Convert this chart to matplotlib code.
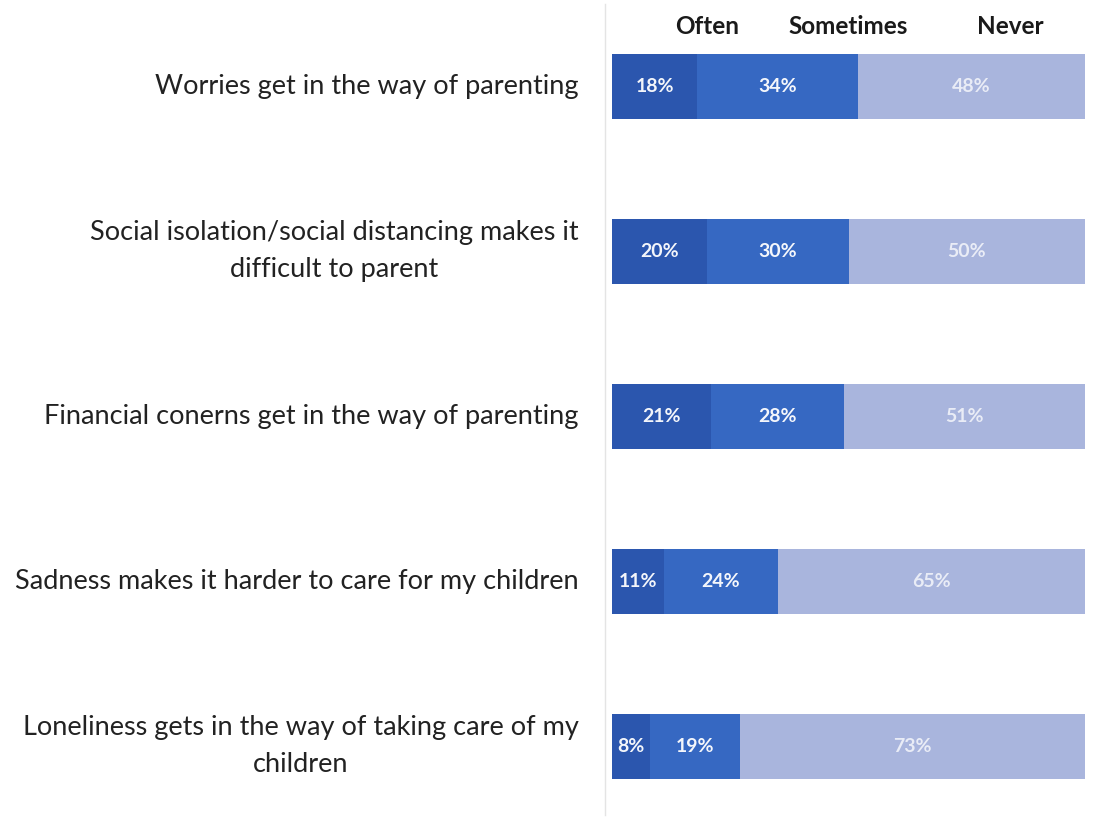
"""
Parenting difficulties survey: stacked horizontal bars (Often / Sometimes / Never).
"""

import numpy as np
import matplotlib
import matplotlib.pyplot as plt

matplotlib.use('Agg')

plt.rcParams['font.family'] = ['Lato', 'DejaVu Sans']

# Survey items, top to bottom
categories = [
    "Worries get in the way of parenting",
    "Social isolation/social distancing makes it\ndifficult to parent",
    "Financial conerns get in the way of parenting",
    "Sadness makes it harder to care for my children",
    "Loneliness gets in the way of taking care of my\nchildren",
]

often = [18, 20, 21, 11, 8]
sometimes = [34, 30, 28, 24, 19]
never = [48, 50, 51, 65, 73]

series_names = ["Often", "Sometimes", "Never"]
colors = ["#2b56ae", "#3668c2", "#a9b5dd"]


fig = plt.figure(figsize=(10.97, 8.22), dpi=100)
ax = fig.add_axes([605 / 1097, 6.7 / 822, 480 / 1097, 811.8 / 822])

y = np.arange(len(categories))
left = np.zeros(len(categories))
bar_h = 65 / 165

for name, vals, col in zip(series_names, [often, sometimes, never], colors):
    vals = np.array(vals, dtype=float)
    ax.barh(y, vals, left=left, height=bar_h, color=col, edgecolor='none')
    for yi, l, v in zip(y, left, vals):
        alpha = 0.75 if name == "Never" else 0.95
        ax.text(l + v / 2, yi, f"{int(v)}%", ha='center', va='center',
                color='white', alpha=alpha, fontsize=14, fontweight='bold')
    left += vals

# column headers above the first bar
header_x = [20.0, 50.0, 84.3]
for name, hx in zip(series_names, header_x):
    ax.text(hx, -0.36, name, ha='center', va='center', fontsize=17.5,
            fontweight='bold', color='#1a1a1a')

# category labels to the left of the bars
for yi, cat in zip(y, categories):
    ax.text(-7.1, yi, cat, ha='right', va='center', multialignment='center',
            fontsize=19.5, color='#222222', linespacing=1.6)

ax.set_xlim(-1.5, 100)
ax.set_ylim(4.42, -0.5)
ax.set_xticks([])
ax.set_yticks([])
for side in ['top', 'right', 'bottom']:
    ax.spines[side].set_visible(False)
ax.spines['left'].set_color('#e4e4e4')
ax.spines['left'].set_linewidth(1.0)

plt.savefig('out.png', dpi=100)
plt.close()
